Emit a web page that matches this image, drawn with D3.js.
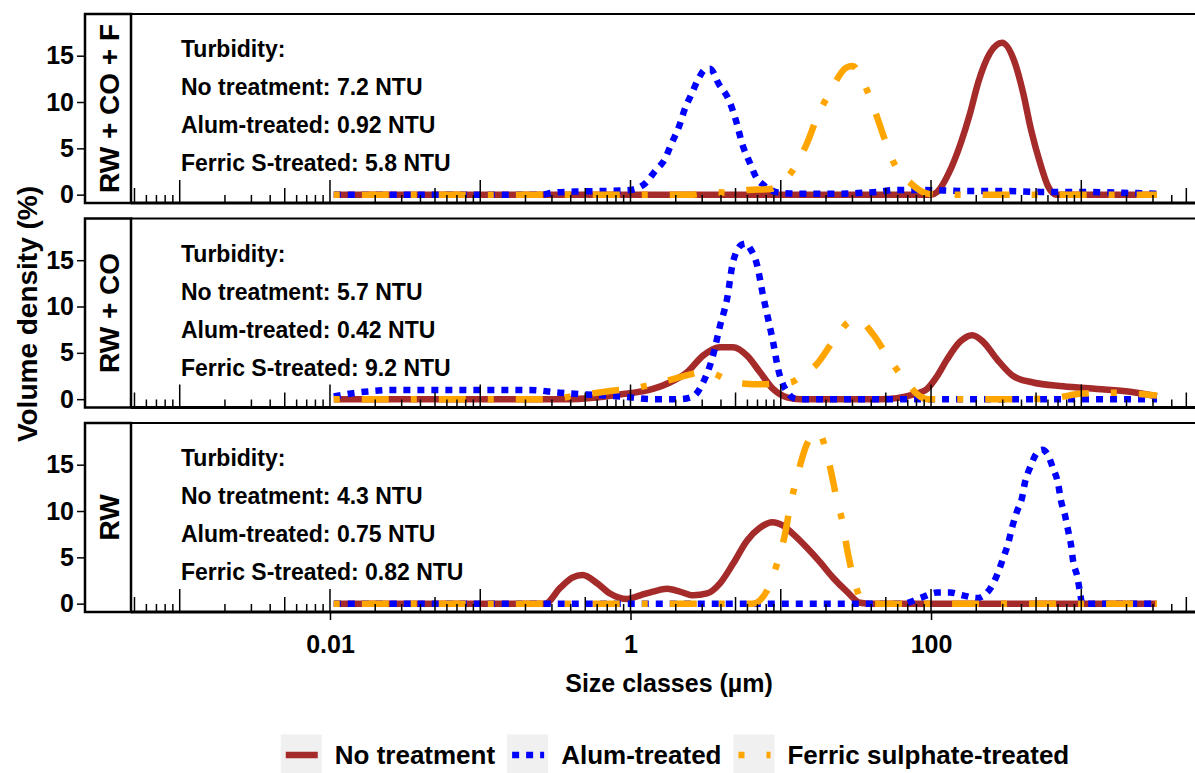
<!DOCTYPE html>
<html>
<head>
<meta charset="utf-8">
<script src="https://cdn.jsdelivr.net/npm/d3@7"></script>
<style>
body { margin: 0; background: white; }
text { font-family: "Liberation Sans", Arial, sans-serif; font-weight: bold; }
</style>
</head>
<body>
<script>
//Declare data
var panelNames = ["RW + CO + F", "RW + CO", "RW"];
var seriesNames = ["No treatment", "Alum-treated", "Ferric sulphate-treated"];
var turbidityNo = ["7.2", "5.7", "4.3"];
var turbidityAlum = ["0.92", "0.42", "0.75"];
var turbidityFerric = ["5.8", "9.2", "0.82"];
var yTicks = [0, 5, 10, 15];
var xTickValues = [0.01, 1, 100];
var xTickLabels = ["0.01", "1", "100"];

//each series is [size class (um), volume density (%)]
var rwcofNo = [[0.0106,0],[100,0],[110,0.3],[132,2.4],[158,5.6],[182,8.8],[206,12.1],[247,15.3],[297,16.4],[362,14.2],[410,11.0],[463,7.0],[532,3.4],[601,0.9],[680,0],[3190,0]];
var rwcofAlum = [[0.0106,0],[0.26,0],[0.3,0.2],[0.45,0.35],[0.7,0.4],[0.99,0.5],[1.25,1.2],[1.45,2.5],[1.7,3.9],[1.86,5.4],[2.13,7.6],[2.27,9.0],[2.57,11.0],[2.81,12.4],[3.13,13.5],[3.38,13.6],[3.88,11.9],[4.52,10.2],[4.95,8.4],[5.61,5.2],[6.24,3.4],[6.84,1.9],[7.74,1.0],[9.9,0.2],[13.5,0.1],[25,0.1],[35,0.2],[45,0.3],[56,0.5],[90,0.5],[160,0.4],[300,0.4],[550,0.3],[1000,0.3],[1900,0.2],[3190,0.1]];
var rwcofFerric = [[0.0106,0],[2.6,0],[3.4,0.3],[4.5,0.2],[6,0.5],[8.5,0.6],[10.2,1.3],[12.1,2.7],[15,5.6],[17.4,8.3],[21.3,11.1],[27.2,13.7],[30,13.9],[35.3,12.2],[42.4,9.0],[49.4,5.9],[56.7,3.4],[74.8,1.1],[91,0.2],[110,0],[3190,0]];

var rwcoNo = [[0.0106,0],[0.4,0],[0.85,0.5],[1.41,1.1],[1.83,1.8],[2.38,2.9],[3.04,4.7],[3.94,5.6],[4.81,5.6],[5.96,4.7],[7.28,2.9],[8.88,1.1],[11,0.2],[13.5,0],[46,0],[76,0.5],[94,1.1],[110,2.5],[128,4.3],[156,6.2],[188,6.9],[222,6.2],[275,4.3],[352,2.5],[478,1.8],[756,1.4],[1275,1.1],[2112,0.8],[3190,0.3]];
var rwcoAlum = [[0.0106,0.3],[0.015,0.7],[0.02,0.9],[0.025,1.0],[0.05,1.0],[0.1,1.0],[0.21,1.0],[0.34,0.7],[0.51,0.5],[0.85,0.3],[1.41,0],[2.13,0],[2.61,0.3],[3.04,1.8],[3.54,4.7],[3.94,7.9],[4.39,10.8],[4.81,14.8],[5.52,16.7],[5.9,16.8],[6.24,16.3],[6.95,14.5],[7.62,11.2],[8.23,8.7],[8.88,6.2],[9.59,3.3],[11,0.8],[12.8,0],[3190,0]];
var rwcoFerric = [[0.0106,0],[0.3,0],[0.4,0.3],[0.75,0.9],[1.15,1.3],[1.75,2.0],[2.4,2.6],[3.0,2.9],[3.5,2.8],[4.5,2.0],[5.5,1.7],[7.5,1.6],[9.5,1.7],[11.5,1.8],[14.5,2.8],[17.4,3.8],[21.3,5.8],[25,7.4],[29,8.4],[33,8.5],[41.1,7.0],[51,4.7],[69,1.8],[84.5,0.3],[95,0],[450,0],[700,0.2],[1000,0.6],[1500,0.7],[2200,0.6],[3190,0.4]];

var rwNo = [[0.0106,0],[0.27,0],[0.34,1.7],[0.41,2.8],[0.48,3.1],[0.6,2.2],[0.73,1.1],[0.95,0.5],[1.16,0.9],[1.41,1.3],[1.75,1.6],[2.13,1.3],[2.61,0.9],[3.23,1.1],[3.94,2.2],[4.81,4.3],[5.96,6.8],[7.28,8.2],[8.74,8.8],[10.4,8.4],[12.1,7.5],[15,6.0],[18.2,4.5],[22.3,2.8],[27.6,1.3],[33.7,0.1],[40,0],[3190,0]];
var rwAlum = [[0.0106,0],[65,0],[84.5,0.6],[110,1.2],[134,1.2],[163,0.9],[202,0.6],[247,1.6],[275,3.1],[302,4.9],[326,6.5],[346,8.2],[374,10.0],[403,11.4],[422,13.1],[456,14.7],[508,16.3],[550,16.6],[592,16.2],[649,14.6],[700,13.0],[733,11.1],[780,9.5],[817,7.9],[855,6.3],[882,4.6],[938,3.0],[982,1.2],[1012,0],[3190,0]];
var rwFerric = [[0.0106,0],[6.5,0],[8.1,1.4],[9.44,4.3],[10.7,7.6],[11.5,10.4],[12.8,13.6],[15,17.3],[17.7,18.5],[21.3,14.7],[23.7,11.1],[25.6,9.0],[28,5.4],[31.2,2.2],[35.3,0.1],[40,0],[3190,0]];

var panelData = [[rwcofNo, rwcofAlum, rwcofFerric], [rwcoNo, rwcoAlum, rwcoFerric], [rwNo, rwAlum, rwFerric]];

//Declare layout
var width = 1195;
var height = 773;
var stripLeft = 85;
var panelLeft = 131;
var panelRight = 1200;
var firstTop = 14;
var panelStep = 204.5;
var panelHeight = 189;
var colors = ["brown", "blue", "orange"];
var dashes = [null, "7,7", "6,22,27,22"];
var lineWidth = 6.5;

var svg = d3.select("body").append("svg")
	.attr("width", width)
	.attr("height", height);

//shared log x scale
var x = d3.scaleLog()
	.domain([4.74e-4, 6166])
	.range([panelLeft, panelRight]);

function makeLine(yScale) {
	return d3.line()
		.x(function(d) { return x(d[0]); })
		.y(function(d) { return yScale(d[1]); })
		.curve(d3.curveMonotoneX);
}

//draws one facet panel
function drawPanel(p) {
	var panelTop = firstTop + p * panelStep;
	var panelBottom = panelTop + panelHeight;
	var y = d3.scaleLinear().domain([-0.9, 19.5]).range([panelBottom, panelTop]);
	var g = svg.append("g");

	//curves
	var line = makeLine(y);
	for (var s = 0; s < 3; s++) {
		g.append("path")
			.datum(panelData[p][s])
			.attr("d", line)
			.attr("fill", "none")
			.attr("stroke", colors[s])
			.attr("stroke-width", lineWidth)
			.attr("stroke-dasharray", dashes[s])
			.attr("stroke-linejoin", "round");
	}

	//log ticks along the bottom
	g.selectAll(".logtick")
		.data(x.ticks())
		.enter()
		.append("line")
		.attr("x1", function(d) { return x(d); })
		.attr("x2", function(d) { return x(d); })
		.attr("y1", panelBottom)
		.attr("y2", function(d) {
			var digit = Math.round(d / Math.pow(10, Math.floor(Math.log10(d) + 1e-9)));
			var len = digit == 1 ? 23 : (digit == 5 ? 15 : 8);
			return panelBottom - len;
		})
		.attr("stroke", "black")
		.attr("stroke-width", 1.5);

	//panel border top and bottom
	g.append("line")
		.attr("x1", panelLeft).attr("x2", panelRight)
		.attr("y1", panelTop).attr("y2", panelTop)
		.attr("stroke", "black").attr("stroke-width", 2);
	g.append("line")
		.attr("x1", panelLeft).attr("x2", panelRight)
		.attr("y1", panelBottom).attr("y2", panelBottom)
		.attr("stroke", "black").attr("stroke-width", 3);

	//strip on the left
	g.append("rect")
		.attr("x", stripLeft)
		.attr("y", panelTop)
		.attr("width", panelLeft - stripLeft)
		.attr("height", panelHeight)
		.attr("fill", "white")
		.attr("stroke", "black")
		.attr("stroke-width", 2.5);
	g.append("text")
		.attr("transform", "translate(" + (stripLeft + (panelLeft - stripLeft) / 2 + 1) + "," + (panelTop + panelHeight / 2) + ") rotate(-90)")
		.attr("text-anchor", "middle")
		.attr("dominant-baseline", "central")
		.attr("font-size", 28)
		.text(panelNames[p]);

	//y axis
	var yAxis = g.append("g")
		.attr("transform", "translate(" + stripLeft + ",0)")
		.call(d3.axisLeft(y).tickValues(yTicks).tickSize(8).tickPadding(3));
	yAxis.select(".domain").remove();
	yAxis.attr("font-size", 25);
	yAxis.selectAll("line").attr("stroke-width", 1.5);

	//turbidity notes
	var notes = ["Turbidity:",
		"No treatment: " + turbidityNo[p] + " NTU",
		"Alum-treated: " + turbidityAlum[p] + " NTU",
		"Ferric S-treated: " + turbidityFerric[p] + " NTU"];
	for (var n = 0; n < notes.length; n++) {
		g.append("text")
			.attr("x", 181)
			.attr("y", panelTop + 43 + n * 38)
			.attr("font-size", 23)
			.text(notes[n]);
	}

	//x axis only under the last panel
	if (p == 2) {
		var xAxis = svg.append("g")
			.attr("transform", "translate(0," + panelBottom + ")")
			.call(d3.axisBottom(x).tickValues(xTickValues)
				.tickFormat(function(d, i) { return xTickLabels[i]; })
				.tickSize(8).tickPadding(15));
		xAxis.select(".domain").remove();
		xAxis.attr("font-size", 25);
		xAxis.selectAll("line").attr("stroke-width", 1.5);
	}
}

for (var p = 0; p < 3; p++) {
	drawPanel(p);
}

//axis titles
svg.append("text")
	.attr("x", 669)
	.attr("y", 692)
	.attr("text-anchor", "middle")
	.attr("font-size", 25)
	.text("Size classes (\u00b5m)");
svg.append("text")
	.attr("transform", "translate(27,314) rotate(-90)")
	.attr("text-anchor", "middle")
	.attr("dominant-baseline", "central")
	.attr("font-size", 28)
	.text("Volume density (%)");

//legend
var legend = svg.append("g");
var keySize = 41;
var legendY = 755;
var cursor = 0;
for (var k = 0; k < 3; k++) {
	var item = legend.append("g").attr("transform", "translate(" + cursor + ",0)");
	item.append("rect")
		.attr("x", 0)
		.attr("y", legendY - keySize / 2)
		.attr("width", keySize)
		.attr("height", keySize)
		.attr("fill", "#f0f0f0");
	item.append("line")
		.attr("x1", 5).attr("x2", keySize - 4)
		.attr("y1", legendY).attr("y2", legendY)
		.attr("stroke", colors[k])
		.attr("stroke-width", lineWidth)
		.attr("stroke-dasharray", dashes[k]);
	var label = item.append("text")
		.attr("x", keySize + 13)
		.attr("y", legendY)
		.attr("dominant-baseline", "central")
		.attr("font-size", 26)
		.text(seriesNames[k]);
	cursor = cursor + keySize + 13 + label.node().getComputedTextLength() + 12;
}
legend.attr("transform", "translate(" + (675 - (cursor - 12) / 2) + ",0)");
</script>
</body>
</html>
